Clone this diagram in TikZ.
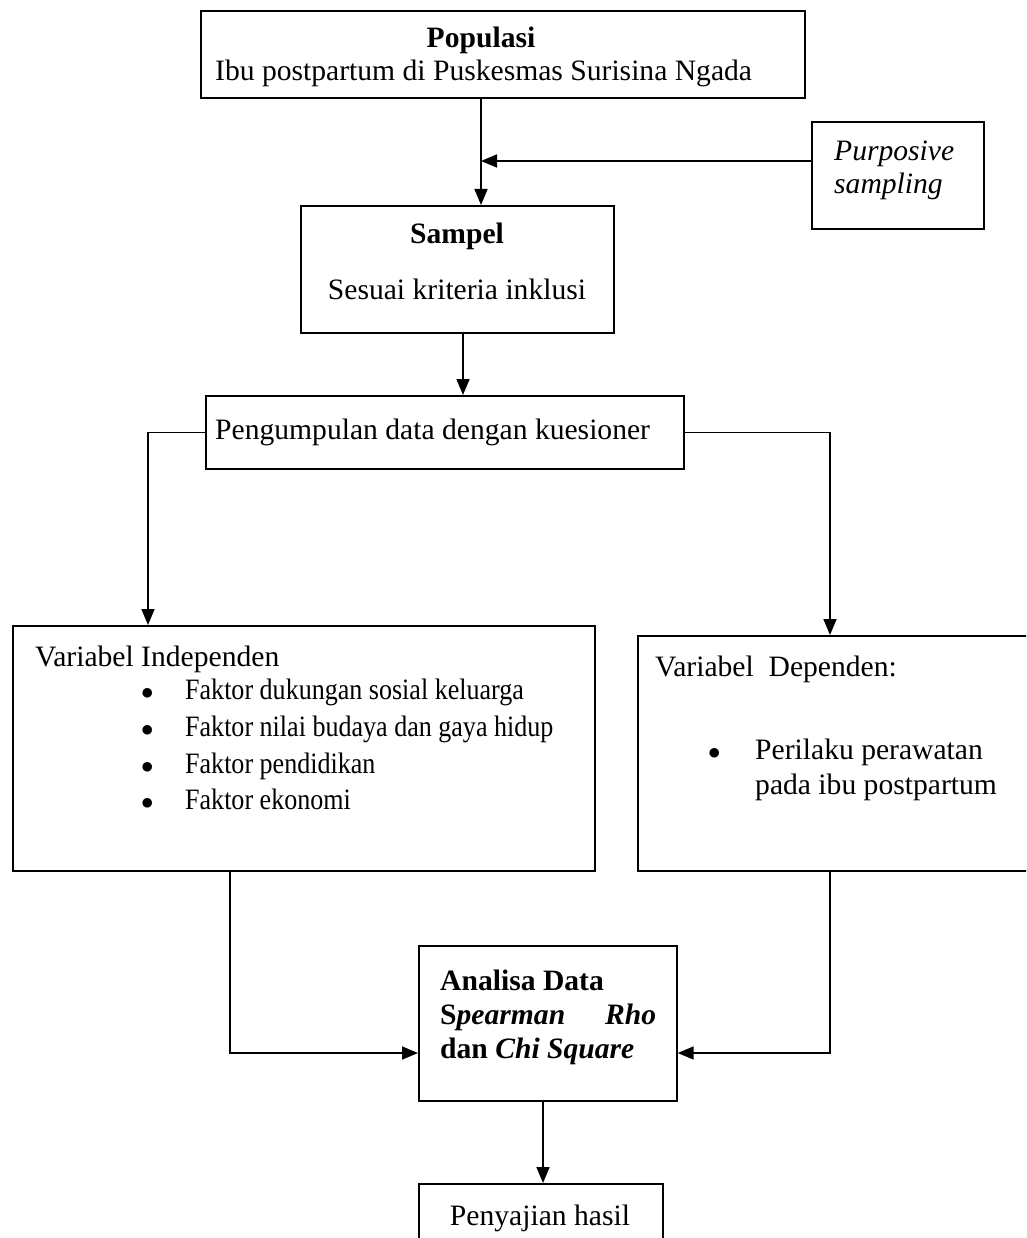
\documentclass[tikz,border=0pt]{standalone}
\usepackage{fontspec}
\setmainfont{Liberation Serif}
\usetikzlibrary{arrows.meta}
\begin{document}
\begin{tikzpicture}[x=1pt,y=-1pt,
  box/.style={draw, line width=1.7pt, inner sep=0pt, anchor=north west},
  txt/.style={inner sep=0pt, anchor=base west, font=\fontsize{29.6}{37}\selectfont},
  ctxt/.style={txt, anchor=base},
  itm/.style={txt, xscale=0.88, transform shape},
  arr/.style={line width=1.7pt, -{Triangle[width=13pt,length=16pt]}}]
\clip (0,0) rectangle (1026,1238);
% boxes
\node[box, minimum width=604pt, minimum height=87pt] (pop) at (200,10) {};
\node[box, minimum width=172pt, minimum height=107pt] (pur) at (811,121) {};
\node[box, minimum width=313pt, minimum height=127pt] (sam) at (300,205) {};
\node[box, minimum width=478pt, minimum height=73pt] (pen) at (205,395) {};
\node[box, minimum width=582pt, minimum height=245pt] (ind) at (12,625) {};
\node[box, minimum width=400pt, minimum height=235pt] (dep) at (637,635) {};
\node[box, minimum width=258pt, minimum height=155pt] (ana) at (418,945) {};
\node[box, minimum width=244pt, minimum height=70pt] (pyj) at (418,1183) {};
% texts
\node[ctxt] (t1) at (481,48) {\textbf{Populasi}};
\node[txt] (t2) at (215,81) {Ibu postpartum di Puskesmas Surisina Ngada};
\node[txt] (t3) at (834,161) {\textit{Purposive}};
\node[txt] (t4) at (834,194) {\textit{sampling}};
\node[ctxt] (t5) at (457,244) {\textbf{Sampel}};
\node[ctxt] (t6) at (457,299) {Sesuai kriteria inklusi};
\node[txt] (t7) at (215,439) {Pengumpulan data dengan kuesioner};
\node[txt] (t8) at (35,666) {Variabel Independen};
\node[txt] (b1) at (141,699) {$\bullet$};
\node[itm] (i1) at (185,699) {Faktor dukungan sosial keluarga};
\node[txt] (b2) at (141,736) {$\bullet$};
\node[itm] (i2) at (185,736) {Faktor nilai budaya dan gaya hidup};
\node[txt] (b3) at (141,773) {$\bullet$};
\node[itm] (i3) at (185,773) {Faktor pendidikan};
\node[txt] (b4) at (141,809) {$\bullet$};
\node[itm] (i4) at (185,809) {Faktor ekonomi};
\node[txt] (t9) at (655,676) {Variabel\ \ Dependen:};
\node[txt] (b5) at (708,759) {$\bullet$};
\node[txt] (i5) at (755,759) {Perilaku perawatan};
\node[txt] (i6) at (755,794) {pada ibu postpartum};
\node[txt] (a1) at (440,990) {\textbf{Analisa Data}};
\node[txt, text width=216pt] (a2) at (440,1024) {\textbf{S\textit{pearman}}\hfill\textbf{\textit{Rho}}};
\node[txt] (a3) at (440,1058) {\textbf{dan \textit{Chi Square}}};
\node[ctxt] (t10) at (540,1225) {Penyajian hasil};
% connectors
\coordinate (xa) at (481,0);
\coordinate (ya) at (0,161);
\coordinate (xb) at (463,0);
\coordinate (xl) at (148,0);
\coordinate (xr) at (830,0);
\coordinate (xl2) at (230,0);
\coordinate (yd) at (0,1053);
\coordinate (xe) at (543,0);
\draw[arr] (pop.south -| xa) -- (sam.north -| xa);
\draw[arr] (pur.west |- ya) -- (xa |- ya);
\draw[arr] (sam.south -| xb) -- (pen.north -| xb);
\draw[arr] (pen.west) -| (ind.north -| xl);
\draw[arr] (pen.east) -| (dep.north -| xr);
\draw[arr] (ind.south -| xl2) |- (ana.west |- yd);
\draw[arr] (dep.south -| xr) |- (ana.east |- yd);
\draw[arr] (ana.south -| xe) -- (pyj.north -| xe);
\end{tikzpicture}
\end{document}
